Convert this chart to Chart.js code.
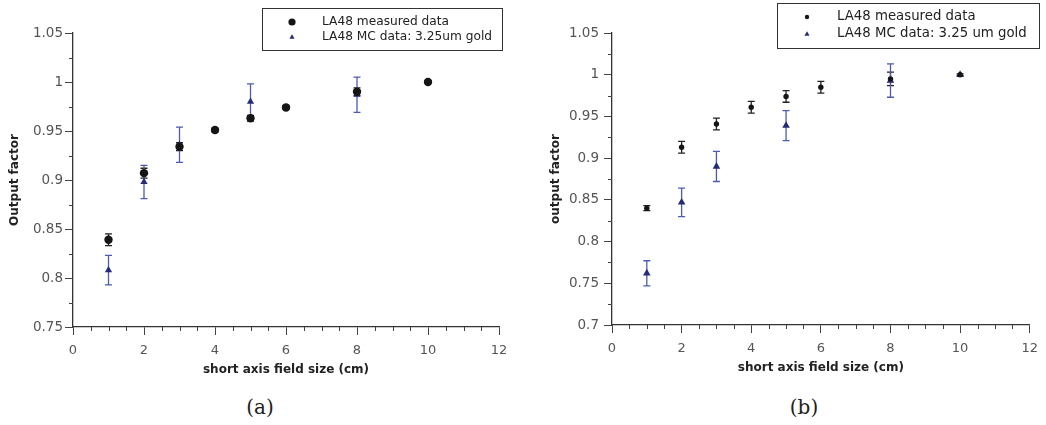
<!DOCTYPE html>
<html>
<head>
<meta charset="utf-8">
<script src="https://cdn.jsdelivr.net/npm/chart.js@4/dist/chart.umd.min.js"></script>
<style>
  body { margin: 0; background: #fff; width: 1046px; height: 425px; position: relative; overflow: hidden; }
  .panel { position: absolute; top: 0; }
  .caption { position: absolute; top: 395px; font-family: 'DejaVu Serif', serif; font-size: 20px; color: #222; transform: translateX(-50%); }
</style>
</head>
<body>
<div class="panel" style="left:0"><canvas id="chartA" width="520" height="385"></canvas></div>
<div class="panel" style="left:520px"><canvas id="chartB" width="526" height="385"></canvas></div>
<div class="caption" style="left:260px">(a)</div>
<div class="caption" style="left:804px">(b)</div>
<script>
// (a) field sizes and output factors
const sizesA = [1, 2, 3, 4, 5, 6, 8, 10]
const measuredA = [0.839, 0.907, 0.934, 0.951, 0.963, 0.974, 0.990, 1.000]
const measuredErrA = [0.006, 0.005, 0.004, 0.002, 0.003, 0.002, 0.004, 0.001]
const mcSizesA = [1, 2, 3, 5, 8, 10]
const mcA = [0.808, 0.898, 0.936, 0.980, 0.987, 1.000]
const mcErrA = [0.015, 0.017, 0.018, 0.018, 0.018, 0]

// (b)
const sizesB = [1, 2, 3, 4, 5, 6, 8, 10]
const measuredB = [0.840, 0.913, 0.941, 0.961, 0.974, 0.985, 0.995, 1.000]
const measuredErrB = [0.003, 0.007, 0.007, 0.007, 0.007, 0.007, 0.008, 0.001]
const mcSizesB = [1, 2, 3, 5, 8, 10]
const mcB = [0.762, 0.847, 0.890, 0.939, 0.993, 1.000]
const mcErrB = [0.015, 0.017, 0.018, 0.018, 0.020, 0]

const xTicks = [0, 2, 4, 6, 8, 10, 12]
const yTicksA = [0.75, 0.8, 0.85, 0.9, 0.95, 1, 1.05]
const yTicksB = [0.7, 0.75, 0.8, 0.85, 0.9, 0.95, 1, 1.05]

const FONT = "'DejaVu Sans', sans-serif"

const toPoints = (xs, ys, errs) => xs.map((x, i) => ({ x, y: ys[i], err: errs[i] }))

// vertical error bars with caps, drawn under the markers
const errorBars = {
  id: 'errorBars',
  beforeDatasetsDraw(chart) {
    const { ctx, scales: { x, y } } = chart
    ctx.save()
    chart.data.datasets.forEach((ds) => {
      if (!ds.errColor) return
      ctx.strokeStyle = ds.errColor
      ctx.lineWidth = 1.3
      ds.data.forEach((p) => {
        if (!p.err) return
        const px = x.getPixelForValue(p.x)
        const top = y.getPixelForValue(p.y + p.err)
        const bot = y.getPixelForValue(p.y - p.err)
        ctx.beginPath()
        ctx.moveTo(px, top); ctx.lineTo(px, bot)
        ctx.moveTo(px - 3.5, top); ctx.lineTo(px + 3.5, top)
        ctx.moveTo(px - 3.5, bot); ctx.lineTo(px + 3.5, bot)
        ctx.stroke()
      })
    })
    ctx.restore()
  },
}

// short minor ticks between the labelled ones
const minorTicks = {
  id: 'minorTicks',
  afterDraw(chart, args, opts) {
    const { ctx, scales: { x, y } } = chart
    ctx.save()
    ctx.strokeStyle = '#444'
    ctx.lineWidth = 1
    ctx.beginPath()
    for (let v = x.min; v <= x.max + 1e-9; v += opts.xStep) {
      if (Math.abs(v / 2 - Math.round(v / 2)) < 1e-6) continue
      const px = Math.round(x.getPixelForValue(v)) + 0.5
      ctx.moveTo(px, y.bottom); ctx.lineTo(px, y.bottom + 4)
    }
    for (let i = 0; i * opts.yStep <= y.max - y.min + 1e-9; i++) {
      if (i % 2 === 0) continue
      const py = Math.round(y.getPixelForValue(y.min + i * opts.yStep)) + 0.5
      ctx.moveTo(x.left - 4, py); ctx.lineTo(x.left, py)
    }
    ctx.stroke()
    ctx.restore()
  },
}

// boxed legend that sits over the top right of the plot
const boxLegend = {
  id: 'boxLegend',
  afterDraw(chart, args, opts) {
    const { ctx } = chart
    ctx.save()
    ctx.fillStyle = '#fff'
    ctx.fillRect(opts.x, opts.y, opts.w, opts.h)
    ctx.strokeStyle = '#333'
    ctx.lineWidth = 1
    ctx.strokeRect(opts.x + 0.5, opts.y + 0.5, opts.w, opts.h)
    ctx.font = opts.fontSize + 'px ' + FONT
    ctx.textBaseline = 'middle'
    const mx = opts.x + opts.markerX
    chart.data.datasets.forEach((ds, i) => {
      const cy = opts.y + opts.rowY[i]
      const r = opts.markerSize[i]
      ctx.fillStyle = ds.backgroundColor
      ctx.beginPath()
      if (ds.pointStyle === 'triangle') {
        ctx.moveTo(mx, cy - r)
        ctx.lineTo(mx + r * 0.9, cy + r * 0.6)
        ctx.lineTo(mx - r * 0.9, cy + r * 0.6)
        ctx.closePath()
      } else {
        ctx.arc(mx, cy, r, 0, Math.PI * 2)
      }
      ctx.fill()
      ctx.fillStyle = '#222'
      ctx.fillText(ds.label, opts.x + opts.textX, cy)
    })
    ctx.restore()
  },
}

function makeChart(el, cfg) {
  return new Chart(el, {
    type: 'scatter',
    data: {
      datasets: [
        {
          label: 'LA48 measured data',
          data: cfg.measured,
          pointStyle: 'circle',
          pointRadius: cfg.circleRadius,
          backgroundColor: '#151515',
          borderColor: '#151515',
          borderWidth: 0,
          errColor: '#222',
        },
        {
          label: cfg.mcLabel,
          data: cfg.mc,
          pointStyle: 'triangle',
          pointRadius: cfg.triRadius,
          backgroundColor: '#262a78',
          borderColor: '#262a78',
          borderWidth: 0,
          errColor: '#4b5bb5',
        },
      ],
    },
    options: {
      responsive: false,
      animation: false,
      layout: { padding: { top: 33, right: cfg.padRight, left: 0, bottom: 0 } },
      plugins: {
        legend: { display: false },
        tooltip: { enabled: false },
        minorTicks: { xStep: 0.5, yStep: 0.025 },
        boxLegend: cfg.legend,
      },
      scales: {
        x: {
          type: 'linear',
          min: 0,
          max: 12,
          afterBuildTicks: (s) => { s.ticks = xTicks.map((v) => ({ value: v })) },
          afterFit: (s) => { s.height = cfg.xHeight },
          grid: { drawOnChartArea: false, tickLength: 8, tickColor: '#444' },
          border: { color: '#333', width: 1.3 },
          ticks: { color: '#555', padding: 8, font: { family: FONT, size: 13 } },
          title: {
            display: true,
            text: 'short axis field size (cm)',
            color: '#222',
            padding: { top: 0, bottom: cfg.xTitlePad },
            font: { family: FONT, size: 12, weight: 'bold' },
          },
        },
        y: {
          type: 'linear',
          min: cfg.yTicks[0],
          max: cfg.yTicks[cfg.yTicks.length - 1],
          afterBuildTicks: (s) => { s.ticks = cfg.yTicks.map((v) => ({ value: v })) },
          afterFit: (s) => { s.width = cfg.yWidth },
          grid: { drawOnChartArea: false, tickLength: 8, tickColor: '#444' },
          border: { color: '#333', width: 1.3 },
          ticks: {
            color: '#555',
            padding: cfg.yTickPad,
            font: { family: FONT, size: 13.5 },
            callback: (v) => String(+v.toFixed(3)),
          },
          title: {
            display: true,
            text: cfg.yTitle,
            color: '#222',
            padding: { top: cfg.yTitlePad, bottom: 0 },
            font: { family: FONT, size: 12, weight: 'bold' },
          },
        },
      },
    },
    plugins: [errorBars, minorTicks, boxLegend],
  })
}

makeChart(document.getElementById('chartA'), {
  measured: toPoints(sizesA, measuredA, measuredErrA),
  mc: toPoints(mcSizesA, mcA, mcErrA),
  mcLabel: 'LA48 MC data: 3.25um gold',
  yTicks: yTicksA,
  yTitle: 'Output factor',
  circleRadius: 4.2,
  triRadius: 4.2,
  padRight: 21,
  yWidth: 73,
  xHeight: 58,
  yTickPad: 2,
  yTitlePad: 8,
  xTitlePad: 8,
  legend: {
    x: 262, y: 8, w: 240, h: 42,
    rowY: [14, 29], markerX: 30, markerSize: [3.6, 2.8], textX: 60, fontSize: 12.2,
  },
})

makeChart(document.getElementById('chartB'), {
  measured: toPoints(sizesB, measuredB, measuredErrB),
  mc: toPoints(mcSizesB, mcB, mcErrB),
  mcLabel: 'LA48 MC data: 3.25 um gold',
  yTicks: yTicksB,
  yTitle: 'output factor',
  circleRadius: 2.7,
  triRadius: 4.4,
  padRight: 11,
  yWidth: 92,
  xHeight: 60,
  yTickPad: 5,
  yTitlePad: 29,
  xTitlePad: 10,
  legend: {
    x: 257, y: 3, w: 262, h: 45,
    rowY: [14, 31], markerX: 30, markerSize: [2.2, 2.8], textX: 60, fontSize: 13.3,
  },
})
</script>
</body>
</html>
